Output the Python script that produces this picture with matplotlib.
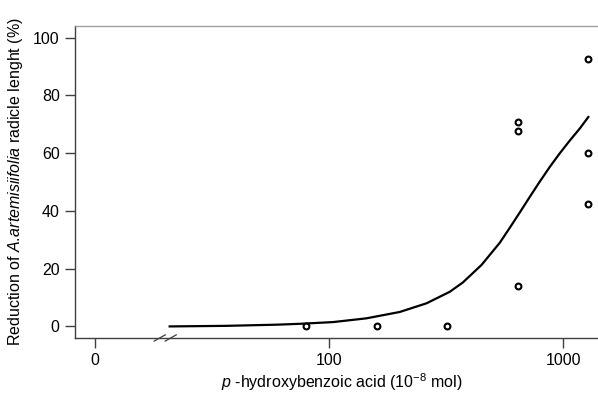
import matplotlib
matplotlib.use("Agg")
import matplotlib.pyplot as plt
import numpy as np

plt.rcParams['font.family'] = ['Liberation Sans', 'DejaVu Sans']
plt.rcParams['mathtext.fontset'] = 'custom'
plt.rcParams['mathtext.rm'] = 'Liberation Sans'
plt.rcParams['mathtext.it'] = 'Liberation Sans:italic'

# observed responses
dose_pts = [80, 160, 320, 640, 640, 640, 1280, 1280, 1280]
resp_pts = [0, 0, 0, 70.9, 67.6, 13.9, 92.6, 60.0, 42.5]

# fitted curve
curve_dose = [20.9, 36.4, 59.6, 74.9, 104, 144.5, 200.5, 260.8, 328, 372.7,
              448.1, 536.4, 591.9, 653.1, 720.6, 795.2, 877.5, 968.1, 1068,
              1179, 1280]
curve_resp = [0, 0.2, 0.6, 0.9, 1.5, 2.8, 5.0, 8.0, 12.0, 15.2,
              21.3, 29.0, 34.2, 39.5, 44.9, 50.2, 55.3, 60.0, 64.4,
              68.6, 72.5]

xticks = [10, 100, 1000]
xticklabels = ["0", "100", "1000"]
yticks = [0, 20, 40, 60, 80, 100]
break_dose = 20

fig = plt.figure(figsize=(5.98, 3.93), dpi=100)
ax = fig.add_axes([0.1254, 0.140, 0.8913, 0.7939])

ax.plot(curve_dose, curve_resp, color="black", lw=1.6, solid_joinstyle="round")
ax.plot(dose_pts, resp_pts, linestyle="none", marker="o", ms=4.2,
        mfc="white", mec="black", mew=1.5)

ax.set_xscale("log")
ax.set_xlim(10 ** 0.916, 10 ** 3.191)
ax.set_ylim(-4, 104)
ax.set_xticks(xticks)
ax.set_xticklabels(xticklabels)
ax.xaxis.set_minor_locator(matplotlib.ticker.NullLocator())
ax.set_yticks(yticks)

for s in ["left", "bottom"]:
    ax.spines[s].set_color("#404040")
    ax.spines[s].set_linewidth(1.0)
ax.spines["top"].set_color("#a0a0a0")
ax.spines["top"].set_linewidth(1.0)
ax.spines["right"].set_visible(False)

ax.tick_params(axis="both", length=7, width=1.0, color="#404040",
               labelsize=11.5, pad=4)

# axis break marks
trans = matplotlib.transforms.blended_transform_factory(ax.transData, ax.transAxes)
lb = np.log10(break_dose)
for off in [-0.047, 0.0]:
    ax.plot([10 ** (lb + off), 10 ** (lb + off + 0.047)], [-0.01, 0.01],
            transform=trans, color="#404040", lw=0.9, clip_on=False)

ax.set_xlabel(r"$\mathit{p}$ -hydroxybenzoic acid (10$^{-8}$ mol)", fontsize=11.5, labelpad=2)
ax.set_ylabel(r"Reduction of $\mathit{A.\!artemisiifolia}$ radicle lenght (%)", fontsize=11.5, labelpad=6)

fig.savefig("out.png", dpi=100)
